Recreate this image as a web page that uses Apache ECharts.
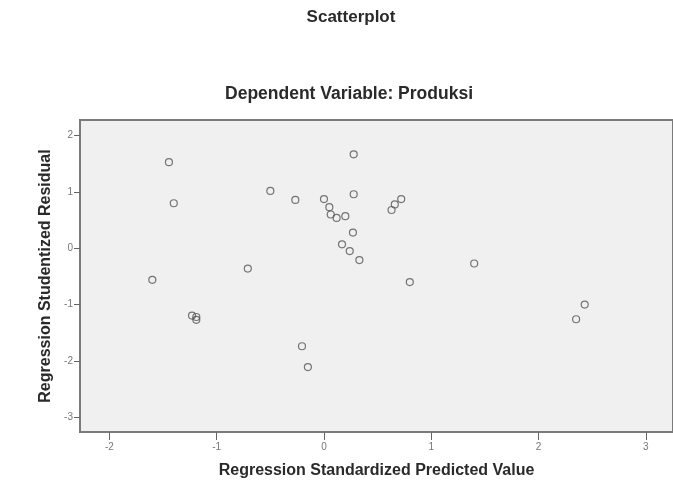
<!DOCTYPE html>
<html>
<head>
<meta charset="utf-8">
<script src="https://cdn.jsdelivr.net/npm/echarts@6/dist/echarts.min.js"></script>
<style>
  html, body { margin: 0; padding: 0; background: #fff; }
  #chart { width: 673px; height: 490px; }
</style>
</head>
<body>
<div id="chart"></div>
<script>
// standardized predicted value vs studentized residual
const predicted = [
  -1.445, -1.40, -1.60, -1.23, -1.19, -1.19, -0.71, -0.50, -0.267, -0.205,
  -0.15, 0.0, 0.05, 0.063, 0.118, 0.199, 0.168, 0.24, 0.27, 0.277,
  0.277, 0.33, 0.63, 0.66, 0.72, 0.80, 1.40, 2.35, 2.43
];
const residual = [
  1.53, 0.80, -0.56, -1.195, -1.22, -1.27, -0.36, 1.02, 0.86, -1.74,
  -2.11, 0.875, 0.73, 0.60, 0.54, 0.57, 0.07, -0.05, 0.28, 1.67,
  0.96, -0.21, 0.68, 0.78, 0.875, -0.60, -0.27, -1.26, -1.00
];
const xTicks = [-2, -1, 0, 1, 2, 3];
const yTicks = [-3, -2, -1, 0, 1, 2];

const points = predicted.map((v, i) => [v, residual[i]]);

const chart = echarts.init(document.getElementById('chart'));
const font = "'Liberation Sans', Arial, sans-serif";

chart.setOption({
  animation: false,
  title: [
    {
      text: 'Scatterplot',
      left: 351, top: 9, textAlign: 'center', padding: 0,
      textStyle: { fontFamily: font, fontSize: 17, fontWeight: 'bold', color: '#2a2a2a' }
    },
    {
      text: 'Dependent Variable: Produksi',
      left: 349, top: 85, textAlign: 'center', padding: 0,
      textStyle: { fontFamily: font, fontSize: 17.5, fontWeight: 'bold', color: '#2a2a2a' }
    }
  ],
  grid: {
    left: 80, top: 120, right: -1, bottom: 58,
    show: true,
    backgroundColor: '#f0f0f0',
    borderColor: '#7a7a7a',
    borderWidth: 2
  },
  xAxis: {
    type: 'value',
    min: -2.274, max: 3.253,
    name: 'Regression Standardized Predicted Value',
    nameLocation: 'middle',
    nameGap: 31,
    nameTextStyle: { fontFamily: font, fontSize: 16, fontWeight: 'bold', color: '#2a2a2a' },
    splitLine: { show: false },
    axisLine: { show: false, onZero: false },
    axisTick: { show: true, customValues: xTicks, length: 8, lineStyle: { color: '#666' } },
    axisLabel: { customValues: xTicks, fontFamily: font, fontSize: 10, color: '#777', margin: 10 }
  },
  yAxis: {
    type: 'value',
    min: -3.263, max: 2.279,
    name: 'Regression Studentized Residual',
    nameLocation: 'middle',
    nameGap: 25,
    nameTextStyle: { fontFamily: font, fontSize: 16, fontWeight: 'bold', color: '#2a2a2a' },
    splitLine: { show: false },
    axisLine: { show: false, onZero: false },
    axisTick: { show: true, customValues: yTicks, length: 6, lineStyle: { color: '#666' } },
    axisLabel: { customValues: yTicks, fontFamily: font, fontSize: 10, color: '#777', margin: 7 }
  },
  series: [{
    type: 'scatter',
    data: points,
    symbol: 'circle',
    symbolSize: 7,
    itemStyle: { color: 'transparent', borderColor: '#555', borderWidth: 1.2 }
  }]
});
</script>
</body>
</html>
